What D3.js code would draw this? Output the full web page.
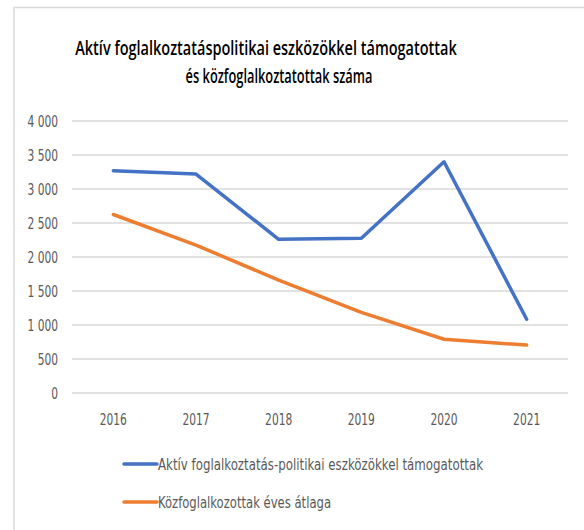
<!DOCTYPE html>
<html><head><meta charset="utf-8">
<script src="https://cdn.jsdelivr.net/npm/d3@7"></script>
<style>
body{margin:0;background:#fff;}
text{font-family:"DejaVu Sans Condensed","Liberation Sans Narrow","Open Sans",sans-serif;}
</style></head>
<body><svg id="c" width="584" height="530"></svg>
<script>
const years = ["2016","2017","2018","2019","2020","2021"];
const aktiv = [3270, 3220, 2260, 2275, 3400, 1085];
const kozfog = [2625, 2175, 1660, 1185, 790, 705];
const yTicks = [0,500,1000,1500,2000,2500,3000,3500,4000];
const titleLines = ["Aktív foglalkoztatáspolitikai eszközökkel támogatottak","és közfoglalkoztatottak száma"];
const seriesNames = ["Aktív foglalkoztatás-politikai eszközökkel támogatottak","Közfoglalkozottak éves átlaga"];
const colors = ["#4472C4","#ED7D31"];

const svg = d3.select("#c");
svg.append("rect").attr("x",14).attr("y",7.5).attr("width",580).attr("height",540)
  .attr("fill","#fff").attr("stroke","#d9d9d9").attr("stroke-width",1.5);

const x = d3.scaleBand().domain(years).range([72,568]);
const y = d3.scaleLinear().domain([0,4000]).range([393,121]);
const loc = d3.formatLocale({decimal:",",thousands:"\u00a0",grouping:[3],currency:["",""]});
const fmt = loc.format(",d");

function squeeze(sel, f){
  sel.each(function(){
    const w = this.getComputedTextLength();
    d3.select(this).attr("textLength", w*f).attr("lengthAdjust","spacingAndGlyphs");
  });
}

// title: scaled to the reference widths
const titleCx = [266, 279], titleW = [382, 187];
svg.append("g").selectAll("text").data(titleLines).join("text")
  .attr("text-anchor","middle").attr("font-size",16).attr("font-weight",600)
  .attr("fill","#000").style("font-family",'"Open Sans",sans-serif')
  .text(d=>d)
  .each(function(d,i){
    const w = this.getComputedTextLength();
    d3.select(this).attr("transform",`translate(${titleCx[i]},${55+i*28}) scale(${titleW[i]/w},1.2)`);
  });

// grid
svg.append("g").selectAll("line").data(yTicks).join("line")
  .attr("x1",72).attr("x2",568).attr("y1",d=>y(d)).attr("y2",d=>y(d))
  .attr("stroke","#d9d9d9").attr("stroke-width",1.3);

// y axis labels
const ya = svg.append("g").attr("transform","translate(72,0)")
  .call(d3.axisLeft(y).tickValues(yTicks).tickFormat(fmt).tickSize(0).tickPadding(14));
ya.select(".domain").remove();
ya.selectAll("text").attr("font-size",16).attr("fill","#595959").attr("font-family",null)
  .call(squeeze,0.74);

// x axis labels
const xa = svg.append("g").attr("transform","translate(0,393)")
  .call(d3.axisBottom(x).tickSize(0).tickPadding(21));
xa.select(".domain").remove();
xa.selectAll("text").attr("font-size",16).attr("fill","#595959").attr("font-family",null)
  .call(squeeze,0.74);

// lines
const line = d3.line().x((d,i)=>x(years[i])+x.bandwidth()/2).y(d=>y(d));
[aktiv,kozfog].forEach((s,k)=>{
  svg.append("path").datum(s).attr("d",line).attr("fill","none")
    .attr("stroke",colors[k]).attr("stroke-width",3.5)
    .attr("stroke-linejoin","round").attr("stroke-linecap","round");
});

// legend
const lg = svg.append("g").selectAll("g").data(seriesNames).join("g")
  .attr("transform",(d,i)=>`translate(0,${464+i*38})`);
lg.append("line").attr("x1",124).attr("x2",157).attr("y1",0).attr("y2",0)
  .attr("stroke",(d,i)=>colors[i]).attr("stroke-width",3.5).attr("stroke-linecap","round");
lg.append("text").attr("x",158).attr("y",6).attr("font-size",16.5).attr("fill","#595959")
  .attr("textLength",(d,i)=> i===0?325:173).attr("lengthAdjust","spacingAndGlyphs")
  .text(d=>d);
</script></body></html>
